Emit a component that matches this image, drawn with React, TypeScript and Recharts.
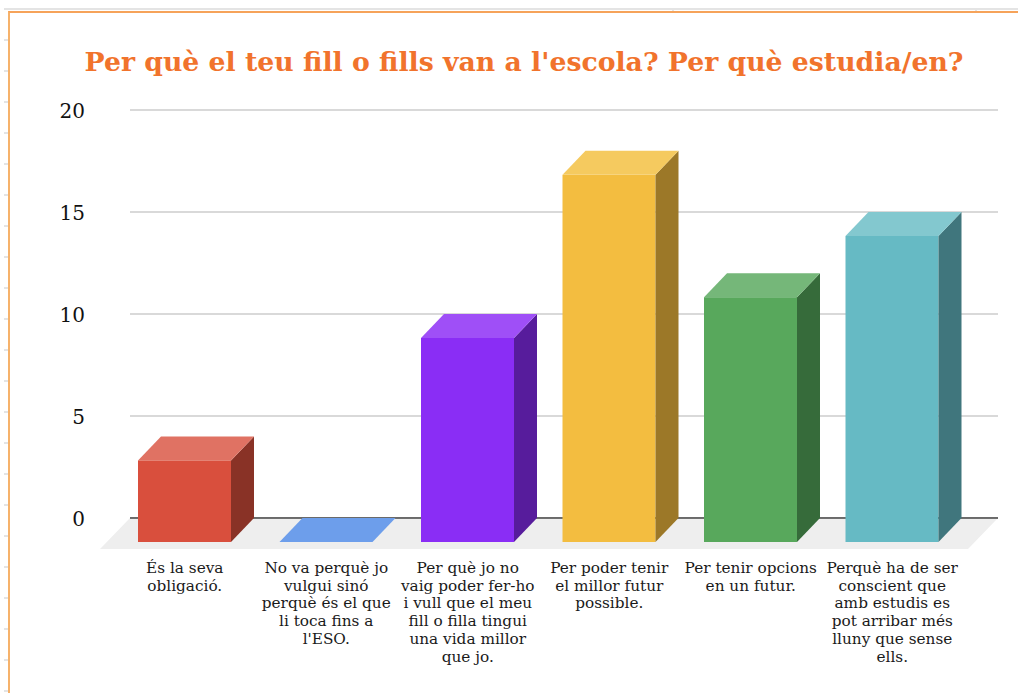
import React from 'react';
import { BarChart, Bar, XAxis, YAxis, CartesianGrid, ReferenceArea } from 'recharts';

const categories = [
  "És la seva obligació.",
  "No va perquè jo vulgui sinó perquè és el que li toca fins a l'ESO.",
  "Per què jo no vaig poder fer-ho i vull que el meu fill o filla tingui una vida millor que jo.",
  "Per poder tenir el millor futur possible.",
  "Per tenir opcions en un futur.",
  "Perquè ha de ser conscient que amb estudis es pot arribar més lluny que sense ells.",
];
const labelLines = [
  ["És la seva", "obligació."],
  ["No va perquè jo", "vulgui sinó", "perquè és el que", "li toca fins a", "l'ESO."],
  ["Per què jo no", "vaig poder fer-ho", "i vull que el meu", "fill o filla tingui", "una vida millor", "que jo."],
  ["Per poder tenir", "el millor futur", "possible."],
  ["Per tenir opcions", "en un futur."],
  ["Perquè ha de ser", "conscient que", "amb estudis es", "pot arribar més", "lluny que sense", "ells."],
];
const values = [4, 0, 10, 18, 12, 15];
const front = ["#d94f3d", "#6d9eeb", "#8a2df5", "#f3bd40", "#58a85c", "#66bac4"];
const topFace = ["#e07263", "#6d9eeb", "#9f4ff7", "#f5ca5f", "#75b779", "#83c8cf"];
const side = ["#893226", "#456494", "#571c9c", "#9c7828", "#366b3a", "#40767d"];
const yTicks = [0, 5, 10, 15, 20];
const title = "Per què el teu fill o fills van a l'escola? Per què estudia/en?";
const data = categories.map((c, i) => ({ c, v: values[i], i }));

const FONT = "'DejaVu Serif', serif";
const DX = 23;
const DY = 24;

const Box = (p: any) => {
  const { x, y, width: w, height: h, i } = p;
  const fx = x - DX, fy = y + DY;
  return (
    <g>
      {h > 0 && <rect x={fx} y={fy} width={w} height={h} fill={front[i]} />}
      {h > 0 && <polygon points={`${fx + w},${fy} ${x + w},${y} ${x + w},${y + h} ${fx + w},${fy + h}`} fill={side[i]} />}
      <polygon points={`${fx},${fy} ${x},${y} ${x + w},${y} ${fx + w},${fy}`} fill={topFace[i]} />
    </g>
  );
};

const Floor = (p: any) => {
  const { x, y, width: w } = p;
  const l = x - 7;
  const r = x + w + 12;
  return (
    <g>
      <polygon points={`${l},${y} ${r},${y} ${r - 30},${y + 31} ${l - 30},${y + 31}`} fill="#eeeeee" />
      <line x1={l} x2={r} y1={y} y2={y} stroke="#444444" strokeWidth={1.5} />
    </g>
  );
};

const CatTick = (p: any) => {
  const { x, y, index } = p;
  return (
    <text x={x - 23} y={y} textAnchor="middle" fontFamily={FONT} fontSize={15.3} fill="#1a1a1a">
      {labelLines[index].map((l, k) => (
        <tspan key={k} x={x - 23} y={y + 17.7 * k}>{l}</tspan>
      ))}
    </text>
  );
};

const leftMarks = Array.from({ length: 22 }, (_, i) => 39 + i * 31);
const topMarks = [672, 975];

export default function App() {
  return (
    <div style={{ position: 'absolute', left: 0, top: 0, width: 1018, height: 693, overflow: 'hidden', background: '#fff' }}>
      <div style={{ position: 'absolute', left: 4, top: 8, right: 0, height: 2, background: '#e4e4e4' }} />
      {leftMarks.map((t) => (
        <div key={t} style={{ position: 'absolute', left: 4, top: t, width: 5, height: 2, background: '#e4e4e4' }} />
      ))}
      {topMarks.map((t) => (
        <div key={t} style={{ position: 'absolute', left: t, top: 9, width: 2, height: 3, background: '#e4e4e4' }} />
      ))}
      <div style={{ position: 'absolute', left: 8, top: 11, right: 0, bottom: 0, borderLeft: '2px solid #f6b26b', borderTop: '2px solid #f6a35a' }} />
      <BarChart
        width={1018}
        height={693}
        data={data}
        margin={{ top: 110, right: 20, bottom: 0, left: 0 }}
        style={{ position: 'absolute', left: 0, top: 0 }}
      >
        <text x={524} y={71} textAnchor="middle" fontFamily={FONT} fontWeight="bold" fontSize={26.7} fill="#f1732c">{title}</text>
        <CartesianGrid horizontal vertical={false} stroke="#cccccc" strokeWidth={1.5} />
        <ReferenceArea y1={0} y2={0} ifOverflow="visible" shape={<Floor />} />
        <XAxis
          dataKey="c"
          axisLine={false}
          tickLine={false}
          interval={0}
          padding={{ left: 7, right: 12 }}
          tick={<CatTick />}
          tickMargin={49}
          height={175}
        />
        <YAxis
          domain={[0, 20]}
          ticks={yTicks}
          axisLine={false}
          tickLine={false}
          width={130}
          tick={{ fontFamily: FONT, fontSize: 20, fill: '#111', dx: -37, dy: 1 }}
        />
        <Bar dataKey="v" barSize={93} isAnimationActive={false} shape={<Box />} />
      </BarChart>
    </div>
  );
}
